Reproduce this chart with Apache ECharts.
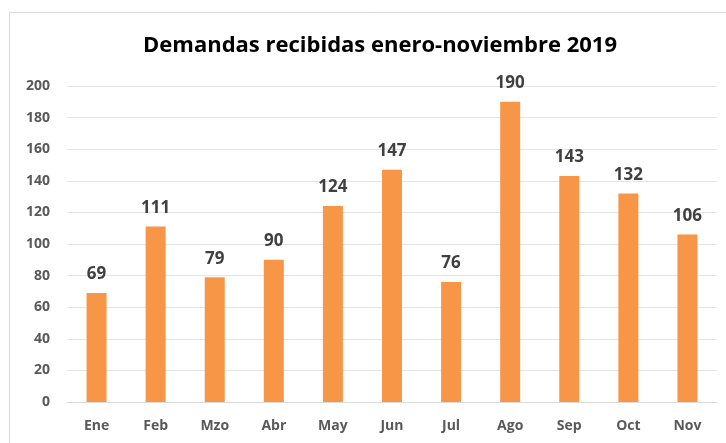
<!DOCTYPE html>
<html>
<head>
<meta charset="utf-8">
<script src="https://cdn.jsdelivr.net/npm/echarts@6/dist/echarts.min.js"></script>
<style>
  html, body { margin: 0; padding: 0; background: #fff; }
  #chart { width: 726px; height: 443px; }
</style>
</head>
<body>
<div id="chart"></div>
<script>
const months = ['Ene', 'Feb', 'Mzo', 'Abr', 'May', 'Jun', 'Jul', 'Ago', 'Sep', 'Oct', 'Nov']
const demandas = [69, 111, 79, 90, 124, 147, 76, 190, 143, 132, 106]

const chart = echarts.init(document.getElementById('chart'))
const axisText = { color: '#595959', fontSize: 14, fontWeight: 'bold', fontFamily: 'Open Sans' }

chart.setOption({
  animation: false,
  graphic: [{
    type: 'rect',
    shape: { x: 9.5, y: 12.5, width: 800, height: 500 },
    style: { fill: 'none', stroke: '#d9d9d9', lineWidth: 1 }
  }],
  title: {
    text: 'Demandas recibidas enero-noviembre 2019',
    left: 375,
    top: 30,
    textAlign: 'center',
    textStyle: { color: '#000', fontSize: 22, fontWeight: 'bold', fontFamily: 'Open Sans' }
  },
  grid: { left: 67, right: 9, top: 86, bottom: 41 },
  xAxis: {
    type: 'category',
    data: months,
    axisLine: { lineStyle: { color: '#d9d9d9' } },
    axisTick: { show: false },
    axisLabel: { ...axisText, margin: 17 }
  },
  yAxis: {
    type: 'value',
    min: 0,
    max: 200,
    interval: 20,
    axisLine: { show: false },
    axisTick: { show: false },
    splitLine: { lineStyle: { color: '#e4e4e4' } },
    axisLabel: { ...axisText, margin: 17 }
  },
  series: [{
    type: 'bar',
    data: demandas,
    barWidth: 20,
    itemStyle: { color: '#f79646' },
    label: {
      show: true,
      position: 'top',
      distance: 10,
      color: '#404040',
      fontSize: 17,
      fontWeight: 'bold',
      fontFamily: 'Open Sans'
    }
  }]
})
</script>
</body>
</html>
